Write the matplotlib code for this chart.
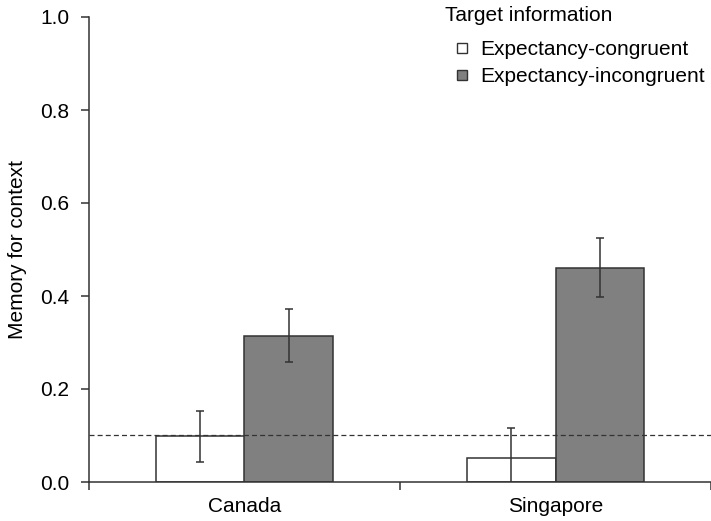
import matplotlib
matplotlib.use("Agg")
import matplotlib.pyplot as plt
from matplotlib.lines import Line2D
import numpy as np

plt.rcParams['font.family'] = ['Liberation Sans', 'DejaVu Sans']

categories = ["Canada", "Singapore"]
series_names = ["Expectancy-congruent", "Expectancy-incongruent"]
legend_title = "Target information"
congruent = [0.098, 0.052]
congruent_err = [0.055, 0.065]
incongruent = [0.315, 0.461]
incongruent_err = [0.057, 0.063]
chance_level = 0.102
y_ticks = [0.0, 0.2, 0.4, 0.6, 0.8, 1.0]

W, H = 711, 521
fig = plt.figure(figsize=(W / 100, H / 100), dpi=100)
ax = fig.add_axes([89 / W, (H - 482) / H, (W - 89) / W, (482 - 17) / H])

x = np.array([0.5, 1.5])
bw = 0.285
edge = '#333333'
ax.bar(x - bw / 2, congruent, bw, color='white', edgecolor=edge, linewidth=1.1, zorder=2)
ax.bar(x + bw / 2, incongruent, bw, color='#808080', edgecolor=edge, linewidth=1.1, zorder=2)
ax.errorbar(x - bw / 2, congruent, yerr=congruent_err, fmt='none', ecolor='#333333',
            elinewidth=1.1, capsize=3, capthick=1.1, zorder=3)
ax.errorbar(x + bw / 2, incongruent, yerr=incongruent_err, fmt='none', ecolor='#333333',
            elinewidth=1.1, capsize=3, capthick=1.1, zorder=3)

ax.axhline(chance_level, color='#333333', linewidth=0.9, linestyle=(0, (4, 2.5)), zorder=4)

ax.set_xlim(0, 622 / 319)
ax.set_ylim(0, 1.0)
ax.set_yticks(y_ticks)
ax.set_yticklabels([f"{v:.1f}" for v in y_ticks], fontsize=15)
ax.set_xticks([0, 1, 2])
ax.set_xticklabels([])
ax.set_xticks(x, minor=True)
ax.set_xticklabels(categories, minor=True, fontsize=15)
ax.tick_params(axis='x', which='major', direction='out', length=6, width=1.1, color=edge)
ax.tick_params(axis='x', which='minor', length=0, pad=11)
ax.tick_params(axis='y', direction='out', length=6, width=1.1, color=edge, pad=8)

for s in ['top', 'right']:
    ax.spines[s].set_visible(False)
for s in ['left', 'bottom']:
    ax.spines[s].set_color(edge)
    ax.spines[s].set_linewidth(1.1)
    ax.spines[s].set_zorder(5)

fig.text(18 / W, 1 - 249.5 / H, "Memory for context", rotation=90, ha='center', va='center', fontsize=15)

fig.text(445 / W, 1 - 21 / H, legend_title, ha='left', va='baseline', fontsize=15)
handles = [Line2D([], [], marker='s', linestyle='none', markersize=7.5, markerfacecolor='white',
                  markeredgecolor='#333333', markeredgewidth=1.0),
           Line2D([], [], marker='s', linestyle='none', markersize=7.5, markerfacecolor='#808080',
                  markeredgecolor='#333333', markeredgewidth=1.0)]
leg = fig.legend(handles, series_names, fontsize=15,
                 loc='upper left', bbox_to_anchor=(454 / W, 1 - 40 / H), frameon=False,
                 handlelength=0.8, handletextpad=0.45, labelspacing=0.4, borderpad=0,
                 borderaxespad=0)

fig.savefig("out.png", dpi=100)
